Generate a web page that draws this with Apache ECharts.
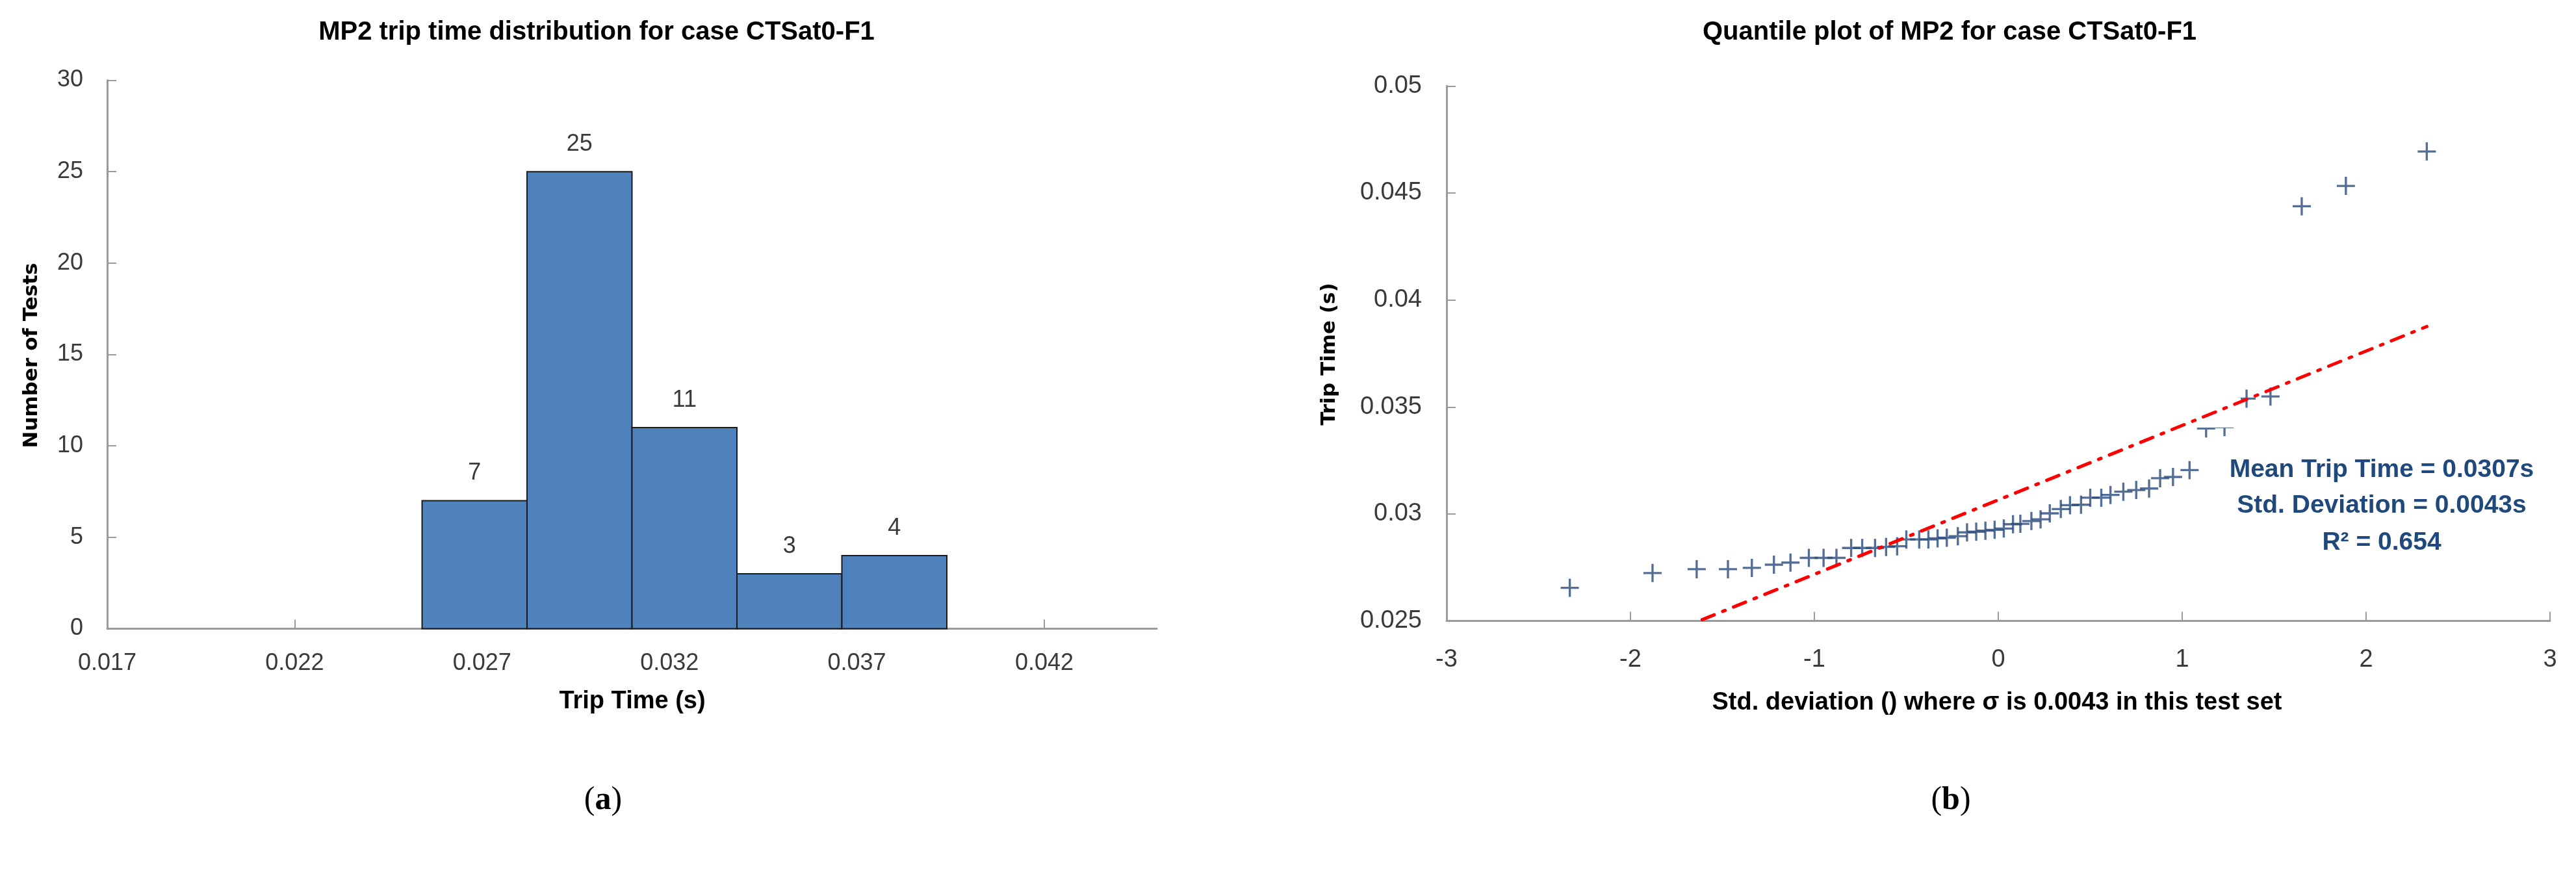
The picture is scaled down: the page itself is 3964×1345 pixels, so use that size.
<!DOCTYPE html>
<html><head><meta charset="utf-8">
<script src="https://cdn.jsdelivr.net/npm/echarts@6/dist/echarts.min.js"></script>
<style>html,body{margin:0;padding:0;background:#fff}#c{width:3964px;height:1345px}</style>
</head><body><div id="c"></div>
<script>
// ---- Data ----
const histTitle = 'MP2 trip time distribution for case CTSat0-F1';
const qqTitle = 'Quantile plot of MP2 for case CTSat0-F1';
const binStart = [0.0254, 0.0282, 0.0310, 0.0338, 0.0366];
const binEnd   = [0.0282, 0.0310, 0.0338, 0.0366, 0.0394];
const counts   = [7, 25, 11, 3, 4];
const histXTicks = [0.017, 0.022, 0.027, 0.032, 0.037, 0.042];

const stdDevZ = [-2.33, -1.88, -1.64, -1.47, -1.34, -1.22, -1.13, -1.03, -0.95, -0.88,
                 -0.80, -0.74, -0.67, -0.61, -0.55, -0.50, -0.43, -0.38, -0.33, -0.28,
                 -0.22, -0.17, -0.12, -0.07, -0.02, 0.03, 0.08, 0.12, 0.18, 0.23,
                 0.28, 0.34, 0.39, 0.45, 0.50, 0.56, 0.61, 0.68, 0.75, 0.82,
                 0.88, 0.95, 1.04, 1.13, 1.23, 1.35, 1.48, 1.65, 1.89, 2.33];
const tripTime = [0.02655, 0.02724, 0.02742, 0.02742, 0.02748, 0.02763, 0.02773, 0.02795, 0.02795, 0.02795,
                  0.02841, 0.02841, 0.02841, 0.02846, 0.02849, 0.02881, 0.02881, 0.02881, 0.02886, 0.02889,
                  0.02896, 0.02914, 0.02917, 0.02922, 0.02926, 0.02932, 0.02952, 0.02954, 0.02967, 0.02975,
                  0.03003, 0.03023, 0.03041, 0.03043, 0.03076, 0.03076, 0.03089, 0.03104, 0.03112, 0.03119,
                  0.03167, 0.03173, 0.03205, 0.03400, 0.03406, 0.03539, 0.03549, 0.04438, 0.04533, 0.04694];
const fitZ    = [-1.61, 2.33];
const fitTime = [0.02506, 0.03876];
const statLines = ['Mean Trip Time = 0.0307s', 'Std. Deviation = 0.0043s', 'R\u00B2 = 0.654'];

// ---- Chart ----
const SANS = "'Liberation Sans', Arial, sans-serif";
const VERD = "'DejaVu Sans', Verdana, sans-serif";
const SERIF = "'Liberation Serif', 'Times New Roman', serif";
const AXC = '#9a9a9a';
const chart = echarts.init(document.getElementById('c'), null, {renderer: 'canvas'});

function axisBase(extra) {
  return Object.assign({
    type: 'value',
    splitLine: {show: false},
    axisLine: {show: true, onZero: false, lineStyle: {color: AXC, width: 3}},
    axisTick: {show: true, inside: true, length: 14, lineStyle: {color: AXC, width: 2}}
  }, extra);
}

const option = {
  animation: false,
  backgroundColor: '#ffffff',
  grid: [
    {left: 165, top: 123.5, width: 1615, height: 844},
    {left: 2226, top: 132.3, width: 1698, height: 823.3}
  ],
  xAxis: [
    axisBase({gridIndex: 0, min: 0.017, max: 0.045,
      axisTick: {show: true, inside: true, length: 14, lineStyle: {color: AXC, width: 2}, customValues: histXTicks},
      axisLabel: {customValues: histXTicks, formatter: v => v.toFixed(3), fontSize: 36, color: '#3a3a3a', fontFamily: SANS, margin: 36}}),
    axisBase({gridIndex: 1, min: -3, max: 3, interval: 1,
      axisLabel: {fontSize: 38, color: '#3a3a3a', fontFamily: SANS, margin: 41}})
  ],
  yAxis: [
    axisBase({gridIndex: 0, min: 0, max: 30, interval: 5,
      axisLabel: {fontSize: 36, color: '#3a3a3a', fontFamily: SANS, margin: 37}}),
    axisBase({gridIndex: 1, min: 0.025, max: 0.05, interval: 0.005,
      axisLabel: {fontSize: 38, color: '#3a3a3a', fontFamily: SANS, margin: 38,
        formatter: v => String(+v.toFixed(3))}})
  ],
  series: [
    {
      type: 'custom', xAxisIndex: 0, yAxisIndex: 0, z: 2,
      encode: {x: [0, 1], y: 2},
      data: binStart.map((s, i) => [s, binEnd[i], counts[i]]),
      renderItem: function (params, api) {
        const p0 = api.coord([api.value(0), api.value(2)]);
        const p1 = api.coord([api.value(1), 0]);
        return {type: 'group', children: [
          {type: 'rect', shape: {x: p0[0], y: p0[1], width: p1[0] - p0[0], height: p1[1] - p0[1]},
           style: {fill: '#4F81BD', stroke: '#1a1a1a', lineWidth: 2}},
          {type: 'text', style: {text: String(api.value(2)), x: (p0[0] + p1[0]) / 2, y: p0[1] - 24,
            align: 'center', verticalAlign: 'bottom', fontSize: 36, fill: '#3a3a3a', fontFamily: SANS}}
        ]};
      }
    },
    {
      type: 'scatter', xAxisIndex: 1, yAxisIndex: 1, z: 2,
      symbol: 'path://M8.8,0 H11.2 V8.8 H20 V11.2 H11.2 V20 H8.8 V11.2 H0 V8.8 H8.8 Z',
      symbolSize: [28, 28],
      itemStyle: {color: '#294a7c'},
      data: stdDevZ.map((z, i) => [z, tripTime[i]])
    },
    {
      type: 'line', xAxisIndex: 1, yAxisIndex: 1, z: 6,
      showSymbol: false, symbol: 'none',
      lineStyle: {color: '#ff0000', width: 5, type: [20, 14, 4, 14], cap: 'round'},
      data: fitZ.map((z, i) => [z, fitTime[i]])
    }
  ],
  graphic: [
    {type: 'rect', z: 4, shape: {x: 3378, y: 612, width: 70, height: 46}, style: {fill: '#ffffff'}},
    {type: 'text', x: 918, y: 50, style: {text: histTitle, align: 'center', verticalAlign: 'middle',
      fontSize: 40, fontWeight: 'bold', fontFamily: SANS, fill: '#000'}},
    {type: 'text', x: 3000, y: 50, style: {text: qqTitle, align: 'center', verticalAlign: 'middle',
      fontSize: 40, fontWeight: 'bold', fontFamily: SANS, fill: '#000'}},
    {type: 'text', x: 49, y: 547, rotation: Math.PI / 2, style: {text: 'Number of Tests', align: 'center',
      verticalAlign: 'middle', fontSize: 31, fontWeight: 'bold', fontFamily: VERD, fill: '#000'}},
    {type: 'text', x: 2046, y: 545, rotation: Math.PI / 2, style: {text: 'Trip Time (s)', align: 'center',
      verticalAlign: 'middle', fontSize: 31, fontWeight: 'bold', fontFamily: VERD, fill: '#000'}},
    {type: 'text', x: 973, y: 1080, style: {text: 'Trip Time (s)', align: 'center', verticalAlign: 'middle',
      fontSize: 38, fontWeight: 'bold', fontFamily: SANS, fill: '#000'}},
    {type: 'text', x: 3073, y: 1082, style: {text: 'Std. deviation () where \u03C3 is 0.0043 in this test set',
      align: 'center', verticalAlign: 'middle', fontSize: 38, fontWeight: 'bold', fontFamily: SANS, fill: '#000'}},
    {type: 'text', x: 3665, y: 723, style: {text: statLines[0], align: 'center', verticalAlign: 'middle',
      fontSize: 39, fontWeight: 'bold', fontFamily: SANS, fill: '#1F497D'}},
    {type: 'text', x: 3665, y: 778, style: {text: statLines[1], align: 'center', verticalAlign: 'middle',
      fontSize: 39, fontWeight: 'bold', fontFamily: SANS, fill: '#1F497D'}},
    {type: 'text', x: 3665, y: 835, style: {text: statLines[2], align: 'center', verticalAlign: 'middle',
      fontSize: 39, fontWeight: 'bold', fontFamily: SANS, fill: '#1F497D'}},
    {type: 'text', x: 928, y: 1232, style: {text: '({b|a})', align: 'center', verticalAlign: 'middle',
      fontSize: 50, fontFamily: SERIF, fill: '#000', rich: {b: {fontSize: 50, fontWeight: 'bold', fontFamily: SERIF}}}},
    {type: 'text', x: 3002, y: 1232, style: {text: '({b|b})', align: 'center', verticalAlign: 'middle',
      fontSize: 50, fontFamily: SERIF, fill: '#000', rich: {b: {fontSize: 50, fontWeight: 'bold', fontFamily: SERIF}}}}
  ]
};
chart.setOption(option);
</script>
</body></html>
